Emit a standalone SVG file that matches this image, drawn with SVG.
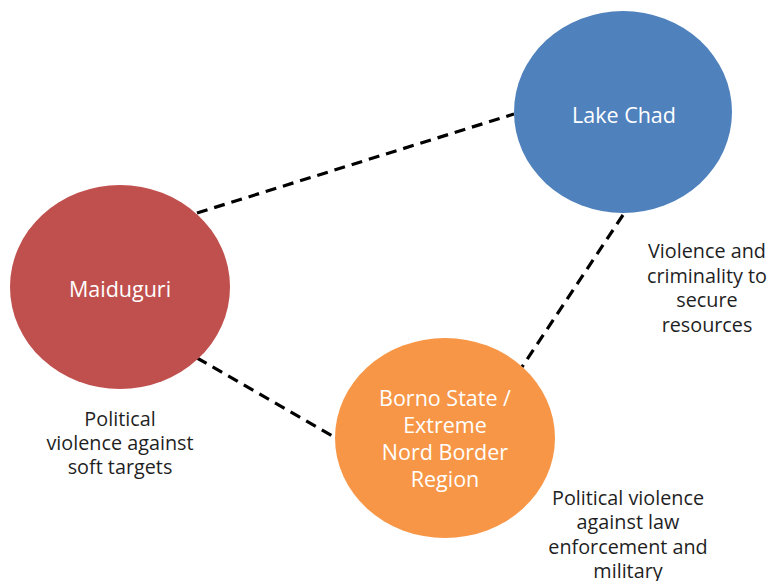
<svg xmlns="http://www.w3.org/2000/svg" width="769" height="581" viewBox="0 0 769 581">
<style>
.node-text{font-family:"Open Sans","Noto Sans",sans-serif;font-size:21.5px;fill:#ffffff;text-anchor:middle}
.label{font-family:"Open Sans","Noto Sans",sans-serif;font-size:19.8px;fill:#1f1f1f;text-anchor:middle}
.conn{stroke:#000;stroke-width:3.2;stroke-dasharray:11 7;fill:none}
</style>
<rect width="769" height="581" fill="#ffffff"/>
<g id="connectors">
<line class="conn" x1="197" y1="213" x2="514" y2="114"/>
<line class="conn" x1="197" y1="358" x2="336" y2="438"/>
<line class="conn" x1="623" y1="215" x2="522" y2="367"/>
</g>
<g id="lake-chad">
<ellipse cx="623" cy="112" rx="109" ry="101" fill="#4F81BD"/>
<text class="node-text" x="624" y="123">Lake Chad</text>
</g>
<g id="maiduguri">
<ellipse cx="120" cy="287" rx="110" ry="102" fill="#C0504D"/>
<text class="node-text" x="120" y="297">Maiduguri</text>
</g>
<g id="borno">
<ellipse cx="445" cy="438" rx="110" ry="100" fill="#F79646"/>
<text class="node-text" x="445" y="406">Borno State /</text>
<text class="node-text" x="445" y="433">Extreme</text>
<text class="node-text" x="445" y="460">Nord Border</text>
<text class="node-text" x="445" y="487">Region</text>
</g>
<g id="label-lake">
<text class="label" x="707" y="258">Violence and</text>
<text class="label" x="707" y="283">criminality to</text>
<text class="label" x="707" y="307">secure</text>
<text class="label" x="707" y="332">resources</text>
</g>
<g id="label-maiduguri">
<text class="label" x="120" y="426">Political</text>
<text class="label" x="120" y="450">violence against</text>
<text class="label" x="120" y="474">soft targets</text>
</g>
<g id="label-borno">
<text class="label" x="628" y="505">Political violence</text>
<text class="label" x="628" y="529">against law</text>
<text class="label" x="628" y="554">enforcement and</text>
<text class="label" x="628" y="578">military</text>
</g>
</svg>
